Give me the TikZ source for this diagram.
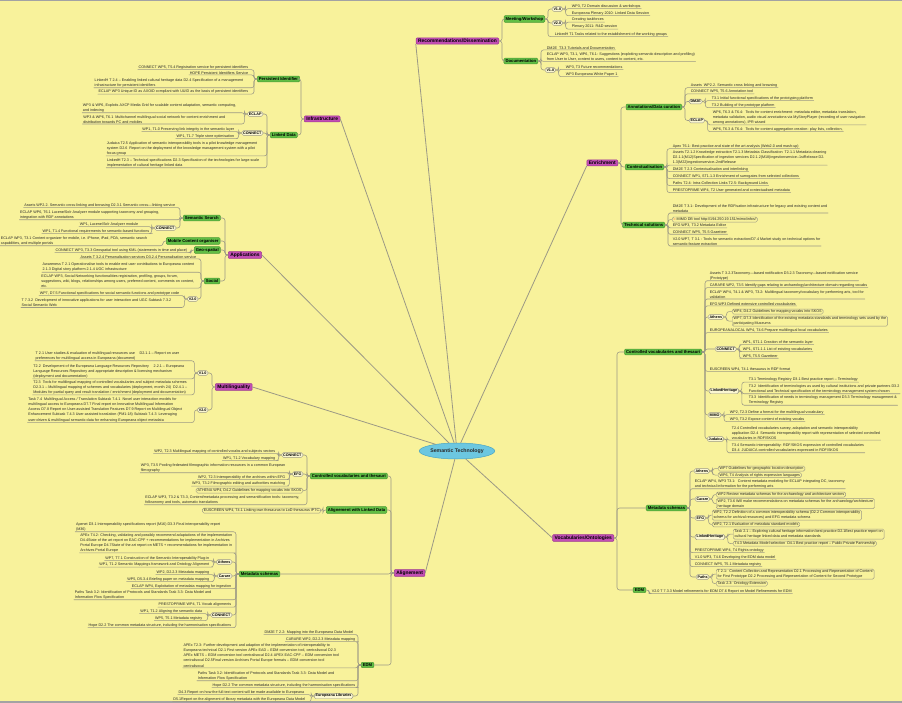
\documentclass[tikz,border=0pt]{standalone}
\usepackage{fontspec}
\setmainfont{Liberation Sans}
\usetikzlibrary{shapes.geometric}
\definecolor{paper}{HTML}{F8F29B}
\definecolor{frame}{HTML}{A3A3A3}
\definecolor{wire}{HTML}{9C9985}
\definecolor{plum}{HTML}{C24EB4}
\definecolor{plumdark}{HTML}{9C3A90}
\definecolor{leaf}{HTML}{62BE45}
\definecolor{leafdark}{HTML}{4C9A34}
\definecolor{sky}{HTML}{6CC7E0}
\definecolor{skydark}{HTML}{4BA6C4}
\definecolor{ink}{HTML}{2A2A2A}
\definecolor{tagfill}{HTML}{FBF7D2}
\newcommand{\leaffont}{\fontsize{3.7}{5.1}\selectfont}
\newcommand{\tagfont}{\fontsize{3.7}{4.4}\selectfont\bfseries}
\newcommand{\branchfont}{\fontsize{4.2}{5}\selectfont\bfseries}
\newcommand{\topicfont}{\fontsize{4.9}{5.8}\selectfont\bfseries}
\newcommand{\rootfont}{\fontsize{5.2}{6.2}\selectfont\bfseries}

\begin{document}
\begin{tikzpicture}[x=1pt, y=-1pt,
  every path/.style={line cap=round},
  root/.style={ellipse, fill=sky, draw=skydark, line width=.5pt, font=\rootfont, text=ink, minimum width=63pt, minimum height=16pt, inner sep=0pt},
  topic/.style={rectangle, rounded corners=1pt, fill=plum, draw=plumdark, line width=.5pt, font=\topicfont, text=black, inner xsep=2pt, inner ysep=1.2pt},
  branch/.style={rectangle, rounded corners=1pt, fill=leaf, draw=leafdark, line width=.5pt, font=\branchfont, text=black, inner xsep=1.6pt, inner ysep=1.3pt},
  tag/.style={rectangle, rounded corners=1.5pt, fill=tagfill, draw=wire, line width=.45pt, font=\tagfont, text=black, inner xsep=1.3pt, inner ysep=1pt},
  leafR/.style={anchor=north west, yshift=2.2pt, font=\leaffont, text=ink, align=left, inner xsep=.6pt, inner ysep=.5pt},
  leafL/.style={leafR, anchor=north east},
  boxR/.style={leafR, draw=wire, line width=.45pt, rounded corners=1.5pt, inner xsep=1.4pt, inner ysep=.8pt},
  boxL/.style={boxR, anchor=north east},
  trunk/.style={draw=wire, line width=.8pt},
  link/.style={draw=wire, line width=.55pt, rounded corners=2.5pt},
]
\fill[paper] (0,0) rectangle (902,703);
\fill[frame] (0,0) rectangle (902,1.5);
\fill[frame] (0,700.5) rectangle (902,703);
\useasboundingbox (0,0) rectangle (902,703);

% ---------- centre and main topics ----------
\node[root] (st) at (457,451) {Semantic Technology};
\node[topic, anchor=east] (rec) at (499,41)  {Recommendations/Dissemination};
\node[topic, anchor=west] (inf) at (304,119) {Infrastructure};
\node[topic, anchor=west] (app) at (228,255) {Applications};
\node[topic, anchor=west] (mul) at (215,387) {Multilinguality};
\node[topic, anchor=east] (enr) at (618,163) {Enrichment};
\node[topic, anchor=east] (voc) at (614,538) {Vocabularies/Ontologies};
\node[topic, anchor=west] (ali) at (394,573) {Alignement};

\foreach \t/\a in {rec/south west, inf/east, app/east, mul/east, enr/south west, voc/west, ali/east}
  \draw[trunk] (st) -- (\t.\a);

% ---------- sub topics ----------
\node[branch, anchor=east] (mw)   at (545,19)  {Meeting/Workshop};
\node[branch, anchor=east] (doc)  at (538,61)  {Documentation};
\node[branch, anchor=west] (pid)  at (257,79)  {Persistent Identifier};
\node[branch, anchor=west] (ld)   at (270,135) {Linked Data};
\node[branch, anchor=west] (ss)   at (183,218) {Semantic Search};
\node[branch, anchor=west] (mco)  at (166,241) {Mobile Content organiser};
\node[branch, anchor=west] (geo)  at (194,250) {Geo-spatial};
\node[branch, anchor=west] (soc)  at (204,281) {Social};
\node[branch, anchor=east] (ann)  at (682,107) {Annotations/Data curation};
\node[branch, anchor=east] (ctx)  at (664,167) {Contextualisation};
\node[branch, anchor=east] (tec)  at (665,225) {Technical solutions};
\node[branch, anchor=east] (cvR)  at (702,352) {Controlled vocabularies and thesauri};
\node[branch, anchor=east] (msR)  at (687,508) {Metadata schemas};
\node[branch, anchor=east] (edmR) at (646,590) {EDM};
\node[branch, anchor=west] (cvL)  at (310,476) {Controlled vocabularies and thesauri};
\node[branch, anchor=west] (ald)  at (326,510) {Alignement with Linked Data};
\node[branch, anchor=west] (msL)  at (239,574) {Metadata schemas};
\node[branch, anchor=west] (edmL) at (361,665) {EDM};

% ---------- project tags ----------
\node[tag, anchor=west] (mwA)  at (552,9)     {V1.0};
\node[tag, anchor=west] (mwB)  at (552,23)    {V2.0};
\node[tag, anchor=west] (docA) at (545,70)    {V1.0};
\node[tag, anchor=east] (ldA)  at (263,114)   {ECLAP};
\node[tag, anchor=east] (ldB)  at (263,133)   {CONNECT};
\node[tag, anchor=east] (ssA)  at (176,228)   {CONNECT};
\node[tag, anchor=east] (socA) at (198,299)   {V2.0};
\node[tag, anchor=east] (mulA) at (208,373)   {V1.0};
\node[tag, anchor=east] (mulB) at (208,410)   {V2.0};
\node[tag, anchor=west] (annA) at (689,101.5) {DM2E};
\node[tag, anchor=west] (annB) at (689,120.5) {ECLAP};
\node[tag, anchor=west] (cvRA) at (708,317)   {Athens};
\node[tag, anchor=west] (cvRB) at (715,349)   {CONNECT};
\node[tag, anchor=west] (cvRC) at (709,391)   {LinkedHeritage};
\node[tag, anchor=west] (cvRD) at (708,415)   {MIMO};
\node[tag, anchor=west] (cvRE) at (707,439)   {Judaica};
\node[tag, anchor=west] (msRA) at (694,471)   {Athens};
\node[tag, anchor=west] (msRB) at (695,499)   {Carare};
\node[tag, anchor=west] (msRC) at (695,518)   {EFG};
\node[tag, anchor=west] (msRD) at (695,537)   {LinkedHeritage};
\node[tag, anchor=west] (msRE) at (696,577)   {Paths};
\node[tag, anchor=east] (cvLA) at (303,455)   {CONNECT};
\node[tag, anchor=east] (cvLB) at (303,474)   {EFG};
\node[tag, anchor=east] (msLA) at (232,562)   {Athens};
\node[tag, anchor=east] (msLB) at (232,576)   {Carare};
\node[tag, anchor=east] (msLC) at (232,615)   {CONNECT};
\node[tag, anchor=east] (edmLA) at (353,696)  {Europeana Libraries};

% ---------- Recommendations/Dissemination ----------
\node[leafR] (mw1) at (571,6)    {WP3, T2 Domain discussion \& workshops};
\node[leafR] (mw2) at (571,13)   {Europeana Plenary 2010: Linked Data Session};
\node[leafR] (mw3) at (571,19.5) {Creating taskforces};
\node[leafR] (mw4) at (571,26.5) {Plenary 2011: R\&D session};
\node[leafR] (mw5) at (554,34)   {LinkedH T1 Tasks related to the establishment of the working groups};
\node[leafR] (doc1) at (546,48)  {DM2E \ T3.3 Tutorials and Documentation};
\node[leafR] (doc2) at (546,54)  {ECLAP WP3, T3.1, WP6, T6.1: Suggestions (exploiting semantic description and profiling)\\from User to User, content to users, content to content, etc.};
\node[leafR] (docA1) at (565,67) {WP3, T3 Future recommendations};
\node[leafR] (docA2) at (565,74) {WP3 Europeana White Paper 1};

% ---------- Infrastructure ----------
\node[leafL] (pid1) at (249,67)   {CONNECT WP5, T5.4 Registration service for persistent identifiers};
\node[leafL] (pid2) at (249,73)   {HOPE Persistent Identifiers Service};
\node[leafL] (pid3) at (244,80)   {LinkedH T 2.4 – Enabling linked cultural heritage data D2.4 Specification of a management\\infrastructure for persistent identifiers};
\node[leafL] (pid4) at (249,91.5) {ECLAP WP3 Unique ID as AXOID compliant with UUID as the basis of persistent identifiers};
\node[leafL] (ldA1) at (237,105) {WP3 \& WP6, Exploits AXCP Media Grid for scalable content adaptation, semantic computing,\\and indexing};
\node[leafL] (ldA2) at (226,117) {WP3 \& WP6, T6.1 \ Multichannel multilingual social network for content enrichment and\\distribution towards PC and mobiles};
\node[leafL] (ldB1) at (235,129) {WP1, T1.0 Preserving link integrity in the semantic layer};
\node[leafL] (ldB2) at (235,136) {WP1, T1.7 Triple store optimisation};
\node[leafL] (ld1) at (258,143)  {Judaica T2.5 Application of semantic interoperability tools in a pilot knowledge management\\system D2.6 \ Report on the deployment of the knowledge management system with a pilot\\focus group};
\node[leafL] (ld2) at (260,160)  {LinkedH T2.3 – Technical specifications D2.3 Specification of the technologies for large-scale\\implementation of cultural heritage linked data};

% ---------- Applications ----------
\node[leafL] (ss1) at (176,205)  {Assets WP2.2. Semantic cross-linking and browsing D2.3.1 Semantic cross—linking service};
\node[leafL] (ss2) at (160,212)  {ECLAP WP6, T6.1 Lucene/Solr Analyzer module supporting taxonomy and grouping,\\integration with RDF annotations};
\node[leafL] (ssA1) at (139,224) {WP1, Lucene/Solr Analyzer module};
\node[leafL] (ssA2) at (150,231) {WP1, T1.4 Functional requirements for semantic-based functions};
\node[leafL] (mco1) at (148,238) {ECLAP WP3, T3.1 Content organizer for mobile, i.e. iPhone, iPad, PDA, semantic search\\capabilities, and multiple portals};
\node[leafL] (geo1) at (188,250) {CONNECT WP3, T3.3 Geospatial tool using KML (statements in time and place)};
\node[leafL] (soc1) at (197,257)   {Assets T 3.2.4 Personalisation services D3.2.4 Personalisation service};
\node[leafL] (soc2) at (195,264.5) {Awareness T 2.1 Operationalise tools to enable end user contributions to Europeana content\\2.1.3 Digital story platform 2.1.4 UGC infrastructure};
\node[leafL] (soc3) at (195,276)   {ECLAP WP3, Social Networking functionalities registration, profiling, groups, forum,\\suggestions, wiki, blogs, relationships among users, preferred content, comments on content,\\etc.};
\node[leafL] (socA1) at (180,293)   {WP7, D7.5 Functional specifications for social semantic functions and prototype code};
\node[leafL] (socA2) at (172,300.5) {T 7.3.2 \ Development of innovative applications for user interaction and UGC Subtask 7.3.2\\Social Semantic Web};

% ---------- Multilinguality ----------
\node[leafL] (mulA1) at (180,353) {T 2.1 User studies \& evaluation of multilingual resources use \quad D2.1.1 – Report on user\\preferences for multilingual access in Europeana (document)};
\node[leafL] (mulA2) at (185,366) {T2.2 \ Development of the Europeana Language Resources Repository \quad 2.2.1 – Europeana\\Language Resources Repository and appropriate description \& licensing mechanism\\(deployment and documentation)};
\node[leafL] (mulA3) at (188,382) {T2.3 \ Tools for multilingual mapping of controlled vocabularies and subject metadata schemes\\D2.3.1 – Multilingual mapping of schemes and vocabularies (deployment, month 24) \ D2.4.1 –\\Modules for partial query and result translation / enrichment (deployment and documentation)};
\node[leafL] (mulB1) at (183,399.5) {Task 7.4 \ Multilingual Access / Translation Subtask 7.4.1 \ Novel user interaction models for\\multilingual access to Europeana D7.7 Final report on Innovative Multilingual Information\\Access D7.8 Report on User-assisted Translation Features D7.9 Report on Multilingual Object\\Enhancement Subtask 7.4.3 User-assisted translation (PM1-18) Subtask 7.4.3 \ Leveraging\\user-driven \& multilingual semantic data for enhancing Europeana object metadata};

% ---------- Enrichment ----------
\node[leafR] (ann1) at (690,85)    {Assets \ WP2.2. Semantic cross linking and browsing};
\node[leafR] (ann2) at (690,91.5)  {CONNECT WP5, T5.6 Annotation tool};
\node[leafR] (annA1) at (711,98)   {T3.1 Initial functional specifications of the prototyping platform};
\node[leafR] (annA2) at (711,105)  {T3.2 Building of the prototype platform};
\node[leafR] (annB1) at (712,112)  {WP6, T6.3 \& T6.4: \ Tools for content enrichment: metadata editor, metadata translation,\\metadata validation, audio visual annotations via MyStoryPlayer (recording of user navigation\\among annotations), IPR wizard};
\node[leafR] (annB2) at (712,129)  {WP6, T6.3 \& T6.4: \ Tools for content aggregation creation: play lists, collection,};
\node[leafR] (ctx1) at (672,146)   {Apex T6.1: Best-practice and state of the art analysis (Web2.0 and mash-up)};
\node[leafR] (ctx2) at (672,152.3) {Assets T2.1.2 Knowledge extraction T2.1.3 Metadata Classification \ T2.1.1 Metadata cleaning\\D2.1.1(M12)Specification of ingestion services D2.1.2(M18)ingestionservice–1stRelease D2.\\1.3(M22)ingestionservice–2ndRelease};
\node[leafR] (ctx3) at (672,169)   {DM2E T 2.3 Contextualisation and interlinking};
\node[leafR] (ctx4) at (672,176)   {CONNECT WP1, ST1.1.3 Enrichment of surrogates from selected collections};
\node[leafR] (ctx5) at (672,183)   {Paths T2.4: Intra-Collection Links T2.5: Background Links};
\node[leafR] (ctx6) at (672,190)   {PRESTOPRIME WP4, T2 User generated and contextualised metadata};
\node[leafR] (tec1) at (672,206)   {DM2E T 3.1: Development of the RDFisation infrastructure for legacy and existing content and\\metadata};
\node[boxR]  (tec2) at (672,219)   {{\color{red}\textbf{–}} MIMO DB tool http://194.250.19.151/mimo/infos/};
\node[leafR] (tec3) at (672,225.5) {EFG WP3, T3.2 Metadata Editor};
\node[leafR] (tec4) at (672,232)   {CONNECT WP5, T5.5 Gazetteer};
\node[leafR] (tec5) at (672,239)   {V2.0 WP7, T 3.1 : Tools for semantic extraction/D7.4 Market study on technical options for\\semantic feature extraction};

% ---------- Vocabularies/Ontologies ----------
\node[leafR] (cvR1) at (709,273) {Assets T 3.2.3Taxonomy—based notification D3.2.3 Taxonomy—based notification service\\(Prototype)};
\node[leafR] (cvR2) at (709,285) {CARARE WP2, T3.5 Identify gaps relating to archaeology/architecture domain regarding vocabs};
\node[leafR] (cvR3) at (709,292) {ECLAP WP4, T4.1 \& WP3, T3.2: Multilingual taxonomy/vocabulary for performing arts, tool for\\validation};
\node[leafR] (cvR4) at (709,304) {EFG WP3 Defined extensive controlled vocabularies};
\node[boxR]  (cvRA1) at (732,311) {WP4, D4.2 Guidelines for mapping vocabs into SKOS};
\node[boxR]  (cvRA2) at (732,318) {WP7, D7.3 Identification of the existing metadata standards and terminology sets used by the\\participating Museums};
\node[leafR] (cvR5) at (709,330) {EUROPEANALOCAL WP4, T4.6 Prepare multilingual local vocabularies};
\node[leafR] (cvRB1) at (742,342) {WP1, ST1.1 Creation of the semantic layer};
\node[leafR] (cvRB2) at (742,349) {WP1, ST1.1.1 List of existing vocabularies};
\node[leafR] (cvRB3) at (742,356) {WP5, T5.5 Gazetteer};
\node[leafR] (cvR6) at (709,369) {EUSCREEN WP4, T4.1 thesaurus in RDF format};
\node[leafR] (cvRC1) at (748,379.5) {T3.1 Terminology Registry D3.1 Best practice report – Terminology};
\node[leafR] (cvRC2) at (748,386)   {T3.2 \ Identification of terminologies as used by cultural institutions and private partners D3.2\\Functional and Technical specification of the terminology management system chosen};
\node[leafR] (cvRC3) at (748,397.5) {T3.3 \ Identification of needs in terminology management D3.3 Terminology management \&\\Terminology Registry};
\node[leafR] (cvRD1) at (729,412) {WP2, T2.3 Define a format for the multilingual vocabulary};
\node[leafR] (cvRD2) at (729,419) {WP3, T3.2 Expose content of existing vocabs};
\node[leafR] (cvRE1) at (731,428) {T2.4 Controlled vocabularies survey, adaptation and semantic interoperability\\application D2.4 \ Semantic interoperability report with representation of selected controlled\\vocabularies in RDF/SKOS};
\node[leafR] (cvRE2) at (731,445) {T3.4 Semantic interoperability: RDF/SKOS expression of controlled vocabularies\\D3.4 \ JUDAICA controlled vocabularies expressed in RDF/SKOS};

\node[boxR]  (msRA1) at (718,468)   {WP7 Guidelines for geographic location description};
\node[boxR]  (msRA2) at (718,474.5) {WP6, T4 Analysis of rights expression languages};
\node[leafR] (msR1) at (694,481)    {ECLAP WP4, WP3 T3.1: \ Content metadata modeling for ECLAP integrating DC, taxonomy\\and technical information for the performing arts};
\node[boxR]  (msRB1) at (716,494)   {WP2 Review metadata schemas for the archaeology and architecture sectors};
\node[boxR]  (msRB2) at (716,500.5) {WP2, T3.6 Will make recommendations on metadata schemas for the archaeology/architecture\\heritage domain};
\node[boxR]  (msRC1) at (712,512)   {WP2, T2.2 Definition of a common interoperability schema (D2.2 Common interoperability\\schema for archival resources) and EFG metadata schema};
\node[boxR]  (msRC2) at (712,524)   {WP2, T2.1 Evaluation of metadata standard models};
\node[boxR]  (msRD1) at (733,531)   {Task 2.1 – Exploring cultural heritage information best practice D2.1Best practice report on\\cultural heritage linked data and metadata standards};
\node[boxR]  (msRD2) at (733,543)   {T4.3 Metadata Model selection \ D4.1 Best practice report – Public Private Partnership};
\node[leafR] (msR2) at (694,550)    {PRESTOPRIME WP4, T4 Rights ontology};
\node[leafR] (msR3) at (694,557)    {V1.0 WP3, T4.6 Developing the EDM data model};
\node[leafR] (msR4) at (694,564)    {CONNECT WP5, T5.1 Metadata registry};
\node[boxR]  (msRE1) at (716,571)   {T 2.1: \ Content Collection and Representation D2.1 Processing and Representation of Content\\for First Prototype D2.2 Processing and Representation of Content for Second Prototype};
\node[boxR]  (msRE2) at (716,583)   {Task 2.3: Ontology Extension};
\node[leafR] (edmR1) at (651,591)   {V2.0 T 7.3.3 Model refinements for EDM D7.6 Report on Model Refinements for EDM};

% ---------- Alignement ----------
\node[leafL] (cvLA1) at (276,451)   {WP2, T2.3 Multilingual mapping of controlled vocabs and subjects vectors};
\node[leafL] (cvLA2) at (276,458)   {WP1, T1.2 Vocabulary mapping};
\node[leafL] (cvLB1) at (286,465)   {WP3, T3.5 Pooling federated filmographic information resources in a common European\\filmography};
\node[leafL] (cvLB2) at (286,477)   {WP2, T2.3 Interoperability of the archives within EFG};
\node[leafL] (cvLB3) at (286,483.5) {WP3, T3.2 Filmographic editing and authorities matching};
\node[boxL]  (cvL1) at (303,490)    {ATHENA WP4, D4.2 Guidelines for mapping vocabs into SKOS};
\node[leafL] (cvL2) at (300,497)    {ECLAP WP3, T3.2 \& T3.3, Content/metadata processing and semantification tools: taxonomy,\\folksonomy and tools, automatic translations};
\node[boxL]  (ald1) at (321,510)    {EUSCREEN WP4, T4.1 Linking own thesaurus to LoD thesaurus IPTC};

\node[leafL] (msL1) at (221,524)    {Apenet D3.1 Interoperability specifications report (M16) D3.3 Final interoperability report\\(M36)};
\node[leafL] (msL2) at (233,535)    {APEx T4.2: Checking, validating and possibly recommend adaptations of the implementation\\D4.4State of the art report on EAC-CPF + recommendations for implementation in Archives\\Portal Europe D4.7State of the art report on METS + recommendations for implementation in\\Archives Portal Europe};
\node[leafL] (msLA1) at (210,558)   {WP7, T7.1 Construction of the Semantic Interoperability Plug-in};
\node[leafL] (msLA2) at (210,564.5) {WP1, T1.2 Semantic Mappings framework and Ontology Alignment};
\node[leafL] (msLB1) at (210,572)   {WP2, D2.2.3 Metadata mapping};
\node[leafL] (msLB2) at (210,579)   {WP5, D5.3.4 Briefing paper on metadata mapping};
\node[leafL] (msL3) at (232,586)    {ECLAP WP4, Exploitation of metadata mapping for ingestion};
\node[leafL] (msL4) at (212,592)    {Paths Task 3.2: Identification of Protocols and Standards Task 3.3: Data Model and\\Information Flow Specification};
\node[leafL] (msL5) at (232,604.5)  {PRESTOPRIME WP4, T1 Vocab alignments};
\node[leafL] (msLC1) at (203,611)   {WP1, T1.2 Aligning the semantic data};
\node[leafL] (msLC2) at (203,618)   {WP5, T5.1 Metadata registry};
\node[leafL] (msL6) at (232,625)    {Hope D2.2 The common metadata structure, including the harmonisation specifications};

\node[leafL] (edmL1) at (354,632)   {DM2E T 2.2: Mapping into the Europeana Data Model};
\node[leafL] (edmL2) at (356,639)   {CARARE WP2, D2.2.3 Metadata mapping};
\node[leafL] (edmL3) at (340,645.5) {APEx T2.3: Further development and adaption of the implementation of interoperability to\\Europeana technical D2.1 First version APEx EAD – EDM conversion tool, centralisocal D2.3\\APEx METS – EDM conversion tool centralisocal D2.4 APEX EAC-CPF – EDM conversion tool\\centralisocal D2.5Final version Archives Portal Europe formats – EDM conversion tool\\centralisocal};
\node[leafL] (edmL4) at (335,673)   {Paths Task 3.2: Identification of Protocols and Standards Task 3.3: Data Model and\\Information Flow Specification};
\node[leafL] (edmL5) at (356,685)   {Hope D2.2 The common metadata structure, including the harmonisation specifications};
\node[leafL] (edmLA1) at (305,692)  {D4.3 Report on how the full-text content will be made available to Europeana};
\node[leafL] (edmLA2) at (306,699)  {D5.1Report on the alignment of library metadata with the Europeana Data Model};

% ---------- forks to boxes ----------
\foreach \p/\c in {rec/mw, rec/doc, enr/ann, enr/ctx, enr/tec, voc/cvR, voc/msR, voc/edmR,
                   mw/mwA, mw/mwB, doc/docA, ann/annA, ann/annB, tec/tec2,
                   cvR/cvRA, cvR/cvRB, cvR/cvRC, cvR/cvRD, cvR/cvRE, cvRA/cvRA1, cvRA/cvRA2,
                   msR/msRA, msR/msRB, msR/msRC, msR/msRD, msR/msRE,
                   msRA/msRA1, msRA/msRA2, msRB/msRB1, msRB/msRB2, msRC/msRC1, msRC/msRC2,
                   msRD/msRD1, msRD/msRD2, msRE/msRE1, msRE/msRE2}
  \draw[link] (\p.east) -- ++(3,0) |- (\c.west);
\foreach \p/\c in {inf/pid, inf/ld, app/ss, app/mco, app/geo, app/soc, mul/mulA, mul/mulB,
                   ali/cvL, ali/ald, ali/msL, ali/edmL, ld/ldA, ld/ldB, ss/ssA, soc/socA,
                   cvL/cvLA, cvL/cvLB, cvL/cvL1, ald/ald1, msL/msLA, msL/msLB, msL/msLC, edmL/edmLA}
  \draw[link] (\p.west) -- ++(-3,0) |- (\c.east);

% ---------- forks to underlined texts ----------
\foreach \p/\c in {mw/mw5, mwA/mw1, mwA/mw2, mwB/mw3, mwB/mw4, doc/doc1, doc/doc2, docA/docA1, docA/docA2,
                   ann/ann1, ann/ann2, annA/annA1, annA/annA2, annB/annB1, annB/annB2,
                   ctx/ctx1, ctx/ctx2, ctx/ctx3, ctx/ctx4, ctx/ctx5, ctx/ctx6,
                   tec/tec1, tec/tec3, tec/tec4, tec/tec5,
                   cvR/cvR1, cvR/cvR2, cvR/cvR3, cvR/cvR4, cvR/cvR5, cvR/cvR6,
                   cvRB/cvRB1, cvRB/cvRB2, cvRB/cvRB3, cvRC/cvRC1, cvRC/cvRC2, cvRC/cvRC3,
                   cvRD/cvRD1, cvRD/cvRD2, cvRE/cvRE1, cvRE/cvRE2,
                   msR/msR1, msR/msR2, msR/msR3, msR/msR4, edmR/edmR1}
  \draw[link] (\p.east) -- ++(3,0) |- (\c.south west) -- (\c.south east);
\foreach \p/\c in {pid/pid1, pid/pid2, pid/pid3, pid/pid4, ldA/ldA1, ldA/ldA2, ldB/ldB1, ldB/ldB2, ld/ld1, ld/ld2,
                   ss/ss1, ss/ss2, ssA/ssA1, ssA/ssA2, mco/mco1, geo/geo1,
                   soc/soc1, soc/soc2, soc/soc3, socA/socA1, socA/socA2,
                   mulA/mulA1, mulA/mulA2, mulA/mulA3, mulB/mulB1,
                   cvLA/cvLA1, cvLA/cvLA2, cvLB/cvLB1, cvLB/cvLB2, cvLB/cvLB3, cvL/cvL2,
                   msL/msL1, msL/msL2, msL/msL3, msL/msL4, msL/msL5, msL/msL6,
                   msLA/msLA1, msLA/msLA2, msLB/msLB1, msLB/msLB2, msLC/msLC1, msLC/msLC2,
                   edmL/edmL1, edmL/edmL2, edmL/edmL3, edmL/edmL4, edmL/edmL5, edmLA/edmLA1, edmLA/edmLA2}
  \draw[link] (\p.west) -- ++(-3,0) |- (\c.south east) -- (\c.south west);

\end{tikzpicture}
\end{document}
